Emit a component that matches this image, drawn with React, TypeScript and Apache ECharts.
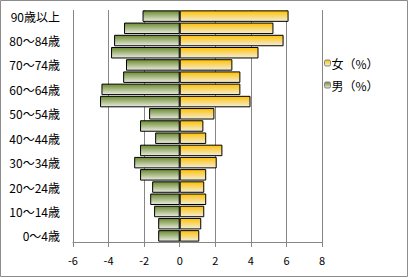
import React, { useEffect, useRef } from "react";
import * as echarts from "echarts";

const categories = [
  "0～4歳", "5～9歳", "10～14歳", "15～19歳", "20～24歳", "25～29歳", "30～34歳",
  "35～39歳", "40～44歳", "45～49歳", "50～54歳", "55～59歳", "60～64歳", "65～69歳",
  "70～74歳", "75～79歳", "80～84歳", "85～89歳", "90歳以上",
];
const femaleValues = [1.1, 1.21, 1.38, 1.49, 1.38, 1.49, 2.08, 2.4, 1.49, 1.33, 1.95, 3.98, 3.41, 3.41, 2.96, 4.43, 5.84, 5.27, 6.12];
const maleValues = [-1.21, -1.21, -1.44, -1.66, -1.55, -2.23, -2.56, -2.23, -1.38, -2.23, -1.72, -4.48, -4.4, -3.18, -3.02, -3.86, -3.69, -3.13, -2.09];
const seriesNames = ["女（%）", "男（%）"];
const xTicks = { min: -6, max: 8, interval: 2 };

const FONT = "'Noto Sans CJK JP', 'Noto Sans', sans-serif";

export default function App() {
  const ref = useRef<HTMLDivElement>(null);
  useEffect(() => {
    if (!ref.current) return;
    const chart = echarts.init(ref.current, null, { renderer: "svg" });
    const yellow = new echarts.graphic.LinearGradient(0, 0, 0, 1, [
      { offset: 0, color: "#ffc000" },
      { offset: 1, color: "#f2eedb" },
    ]);
    const green = new echarts.graphic.LinearGradient(0, 0, 0, 1, [
      { offset: 0, color: "#6c8a2e" },
      { offset: 1, color: "#e9ece2" },
    ]);
    chart.setOption({
      animation: false,
      textStyle: { fontFamily: FONT },
      graphic: [
        {
          type: "rect",
          shape: { x: 0.5, y: 0.5, width: 407, height: 276 },
          style: { fill: "none", stroke: "#8c8c8c", lineWidth: 1 },
          silent: true,
        },
      ],
      grid: { left: 73, right: 87, top: 10, bottom: 36, containLabel: false },
      legend: {
        orient: "vertical",
        left: 319,
        top: 52,
        itemWidth: 6,
        itemHeight: 6,
        itemGap: 10,
        data: seriesNames,
        itemStyle: { borderColor: "#808080", borderWidth: 1 },
        textStyle: { fontSize: 12, color: "#000", fontFamily: FONT, padding: [0, 0, 0, -4] },
      },
      xAxis: {
        type: "value",
        min: xTicks.min,
        max: xTicks.max,
        interval: xTicks.interval,
        axisLine: { show: true, onZero: false, lineStyle: { color: "#868686", width: 1 } },
        axisTick: { show: true, length: 5, lineStyle: { color: "#868686" } },
        axisLabel: { fontSize: 11, color: "#000", margin: 12, fontFamily: FONT },
        splitLine: { show: true, lineStyle: { color: "#868686", width: 1 } },
      },
      yAxis: {
        type: "category",
        data: categories,
        axisLine: { show: false },
        axisTick: { show: false },
        axisLabel: { interval: 1, fontSize: 12, color: "#000", margin: 13, fontFamily: FONT },
        splitLine: { show: false },
      },
      series: [
        {
          name: seriesNames[0],
          type: "bar",
          stack: "pop",
          data: femaleValues,
          barCategoryGap: "6%",
          itemStyle: { color: yellow, borderColor: "#000", borderWidth: 1 },
        },
        {
          name: seriesNames[1],
          type: "bar",
          stack: "pop",
          data: maleValues,
          barCategoryGap: "6%",
          itemStyle: { color: green, borderColor: "#000", borderWidth: 1 },
        },
      ],
    });
    return () => chart.dispose();
  }, []);
  return (
    <div
      ref={ref}
      style={{ position: "fixed", left: 0, top: 0, width: 409, height: 278, background: "#fff" }}
    />
  );
}
